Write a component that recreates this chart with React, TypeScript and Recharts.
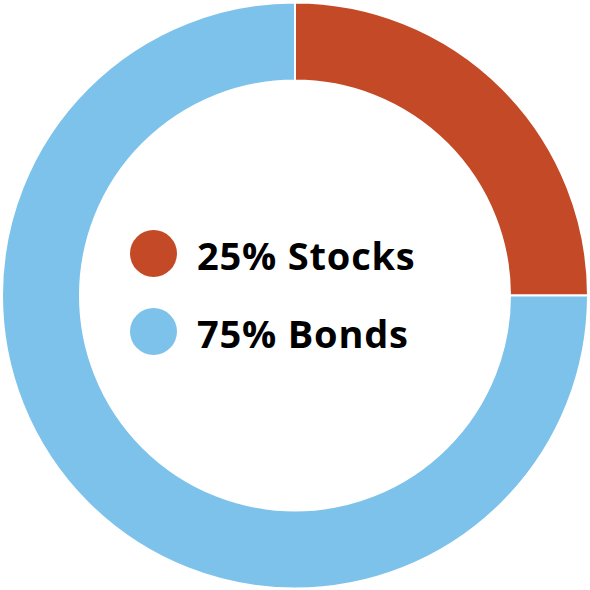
import { Pie, PieChart, Cell } from "recharts";

const categories = ["Stocks", "Bonds"];
const shares = [25, 75];
const colors = ["#C44A27", "#7DC2EA"];

const data = categories.map((name, i) => ({ name, value: shares[i] }));

const LegendBlock = () => (
  <div style={{ position: "absolute", left: 130, top: 214.5, width: 340 }}>
    {data.map((d, i) => (
      <div
        key={d.name}
        style={{ display: "flex", alignItems: "center", height: 78 }}
      >
        <div
          style={{
            width: 47,
            height: 47,
            borderRadius: "50%",
            background: colors[i],
            marginRight: 20,
          }}
        />
        <span
          style={{
            fontFamily: "'Open Sans', sans-serif",
            fontWeight: 700,
            fontSize: 38,
            letterSpacing: 0.8,
            color: "#000",
            lineHeight: 1,
            position: "relative",
            top: 1,
          }}
        >
          {d.value}% {d.name}
        </span>
      </div>
    ))}
  </div>
);

const App = () => {
  return (
    <div style={{ position: "absolute", left: 0, top: 0, width: 590, height: 590, background: "#fff" }}>
      <PieChart width={590} height={590} margin={{ top: 0, right: 0, bottom: 0, left: 0 }}>
        <Pie
          data={data}
          dataKey="value"
          nameKey="name"
          cx={295}
          cy={295.5}
          innerRadius={215}
          outerRadius={293}
          startAngle={90}
          endAngle={-270}
          stroke="#fff"
          strokeWidth={2}
          isAnimationActive={false}
        >
          {data.map((d, i) => (
            <Cell key={d.name} fill={colors[i]} />
          ))}
        </Pie>
      </PieChart>
      <LegendBlock />
    </div>
  );
};

export default App;
